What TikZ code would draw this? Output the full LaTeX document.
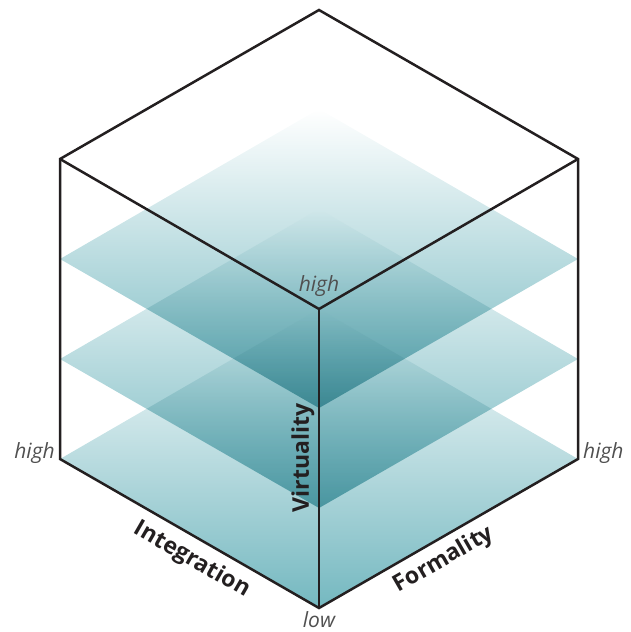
\documentclass[tikz,border=0pt]{standalone}
\usepackage{fontspec}
\setmainfont{Open Sans}
\definecolor{cubeline}{RGB}{35,31,32}
\definecolor{planeteal}{RGB}{116,184,192}
\definecolor{planemid}{RGB}{194,212,216}
\definecolor{ticktext}{RGB}{80,80,80}
\begin{document}
\begin{tikzpicture}[x=1pt, y=-1pt,
    edge/.style={draw=cubeline, line width=2.5pt, line join=miter},
    plane/.style={top color=white, middle color=planemid, bottom color=planeteal},
    tick/.style={font=\itshape\fontsize{21}{21}\selectfont, text=ticktext, inner sep=1pt},
    axis/.style={font=\bfseries\fontsize{23}{23}\selectfont, text=cubeline, inner sep=0pt}
  ]
  \useasboundingbox (0,0) rectangle (631,632);

  \coordinate (top) at (319,10);
  \coordinate (ul) at (60,159);
  \coordinate (ur) at (578,159);
  \coordinate (mid) at (319,309);
  \coordinate (ll) at (60,459);
  \coordinate (lr) at (578,459);
  \coordinate (bot) at (319,608);

  \begin{scope}[blend mode=multiply]
    \foreach \h in {0,100,200}
      \shade[plane] (319,309-\h) -- (578,459-\h) -- (319,608-\h) -- (60,459-\h) -- cycle;
  \end{scope}

  \draw[edge] (top) -- (ur) -- (lr) -- (bot) -- (ll) -- (ul) -- cycle;
  \draw[edge] (ul) -- (mid) -- (ur);
  \draw[edge] (mid) -- (bot);

  \node[tick] (hightop) at (319,286) {high};
  \node[tick, anchor=east] (highleft) at (56,453) {high};
  \node[tick, anchor=west] (highright) at (582,453) {high};
  \node[tick] (low) at (319,620) {low};

  \node[axis, rotate=90] (virtuality) at (303,458) {Virtuality};
  \node[axis, rotate=-30] (integration) at (192,560) {Integration};
  \node[axis, rotate=30] (formality) at (444,560) {Formality};
\end{tikzpicture}
\end{document}
